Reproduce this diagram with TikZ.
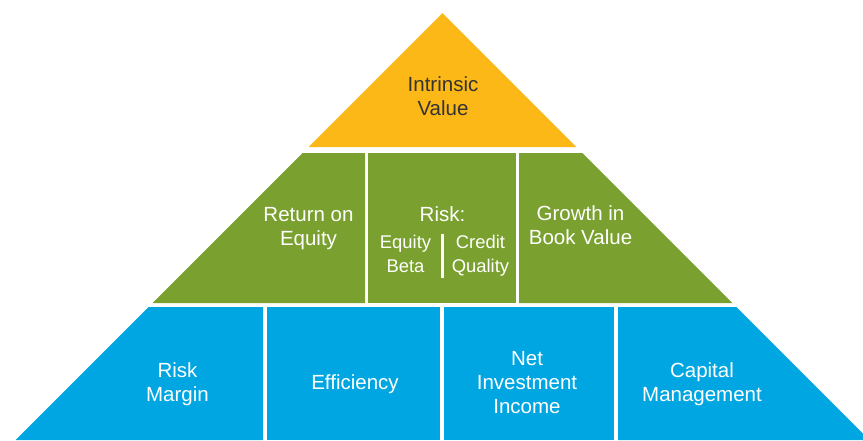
\documentclass[tikz,border=0pt]{standalone}
\usepackage{fontspec}
\setmainfont{Liberation Sans}
\definecolor{topgold}{HTML}{FBB817}
\definecolor{midgreen}{HTML}{7AA12F}
\definecolor{basecyan}{HTML}{00A6E2}
\definecolor{darktext}{HTML}{333333}
\begin{document}
\begin{tikzpicture}[x=1pt,y=-1pt,
    big/.style={align=center, text=white, anchor=base, font=\fontsize{20.5}{24}\selectfont},
    small/.style={big, font=\fontsize{18.4}{24}\selectfont}]
    \useasboundingbox (0,0) rectangle (863,440);
    \clip (0,0) rectangle (863,440);
    % top
    \fill[topgold] (442.5,13) -- (576.5,147) -- (308.5,147) -- cycle;
    % middle tier
    \fill[midgreen] (302.5,153) -- (365,153) -- (365,303) -- (152.5,303) -- cycle;
    \fill[midgreen] (368,153) rectangle (516,303);
    \fill[midgreen] (519,153) -- (582.5,153) -- (732.5,303) -- (519,303) -- cycle;
    % bottom tier
    \fill[basecyan] (148.5,307) -- (263,307) -- (263,440) -- (15.5,440) -- cycle;
    \fill[basecyan] (267,307) rectangle (440,440);
    \fill[basecyan] (444,307) rectangle (614,440);
    \fill[basecyan] (618,307) -- (736.5,307) -- (869.5,440) -- (618,440) -- cycle;

    \node[big, text=darktext] (intrinsic) at (443,115) {Intrinsic\\Value};
    \node[big] (roe) at (308.5,245) {Return on\\Equity};
    \node[big] (risk) at (442.5,221) {Risk:};
    \node[small] (beta) at (405.5,272) {Equity\\Beta};
    \node[small] (credit) at (480.5,272) {Credit\\Quality};
    \coordinate (splittop) at (442.5,234);
    \coordinate (splitbot) at (442.5,278);
    \draw[white, line width=2.5pt] (splittop) -- (splitbot);
    \node[big] (growth) at (580.5,244) {Growth in\\Book Value};
    \node[big] (margin) at (177.5,401) {Risk\\Margin};
    \node[big] (efficiency) at (355,389) {Efficiency};
    \node[big] (nii) at (527,413) {Net\\Investment\\Income};
    \node[big] (capital) at (702,401) {Capital\\Management};
\end{tikzpicture}
\end{document}
